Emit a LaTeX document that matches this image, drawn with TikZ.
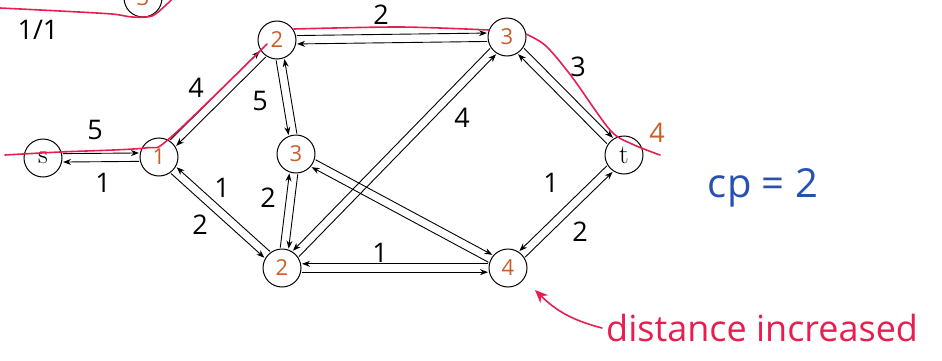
\documentclass[tikz,border=0pt]{standalone}
\usepackage{fontspec}
\setsansfont{Open Sans}
\usetikzlibrary{arrows.meta,calc}

\definecolor{distorange}{RGB}{200,95,40}
\definecolor{pathred}{RGB}{232,30,80}
\definecolor{capblue}{RGB}{40,80,175}

% one arc of a pair, drawn on the left / right of its own direction
\newcommand{\arcL}[2]{\draw[arr] ($(#1)!20pt!(#2)!4.2pt!90:(#2)$) -- ($(#2)!20pt!(#1)!4.2pt!-90:(#1)$);}
\newcommand{\arcR}[2]{\draw[arr] ($(#1)!20pt!(#2)!4.2pt!-90:(#2)$) -- ($(#2)!20pt!(#1)!4.2pt!90:(#1)$);}

\begin{document}
\begin{tikzpicture}[x=1pt, y=1pt,
  vert/.style={circle, draw, line width=1pt, minimum size=38pt, inner sep=0pt,
               text=distorange, font=\sffamily\fontsize{22}{22}\selectfont},
  term/.style={vert, text=black, font=\rmfamily\fontsize{27}{27}\selectfont},
  arr/.style={-{Stealth[length=8pt,width=6pt]}, line width=0.9pt},
  wt/.style={font=\sffamily\fontsize{27}{27}\selectfont, inner sep=0pt},
  red path/.style={pathred, line width=1.6pt, line cap=round}]
\useasboundingbox (0,0) rectangle (942,360);

% ---- vertices ----
\node[term] (s) at (43,202) {s};
\node[vert] (v1) at (159,203) {1};
\node[vert] (a2) at (277,320) {2};
\node[vert] (b3) at (507,323) {3};
\node[term] (t) at (624,205) {t};
\node[vert] (c3) at (296,206) {3};
\node[vert] (d2) at (282,92) {2};
\node[vert] (e4) at (508,92) {4};
\node[vert] (prev) at (143,362) {3};

% ---- residual arcs ----
\arcL{s}{v1} \arcL{v1}{s}
\arcL{v1}{a2} \arcL{a2}{v1}
\arcL{a2}{b3} \arcL{b3}{a2}
\arcL{b3}{t} \arcL{t}{b3}
\arcR{a2}{c3} \arcR{c3}{a2}
\arcR{d2}{v1} \arcR{v1}{d2}
\arcL{d2}{c3} \arcL{c3}{d2}
\arcR{d2}{b3} \arcR{b3}{d2}
\arcL{c3}{e4} \arcL{e4}{c3}
\arcR{e4}{d2} \arcR{d2}{e4}
\arcR{t}{e4} \arcR{e4}{t}

% ---- weights ----
\node[wt] (w-s1) at (95,230) {5};
\node[wt] (w-1s) at (103,177) {1};
\node[wt] (w-1a) at (196,272) {4};
\node[wt] (w-ac) at (260,259) {5};
\node[wt] (w-ab) at (381,345) {2};
\node[wt] (w-bt) at (578,293) {3};
\node[wt] (w-db) at (462,242) {4};
\node[wt] (w-d1) at (222,172) {1};
\node[wt] (w-1d) at (200,135) {2};
\node[wt] (w-cd) at (268,162) {2};
\node[wt] (w-de) at (380,107) {1};
\node[wt] (w-te) at (551,177) {1};
\node[wt] (w-et) at (580,128) {2};
\node[wt] (ratio) at (38,330) {1/1};

% ---- shortest path ----
\draw[red path] plot[smooth, tension=0.5] coordinates {(5,205) (60,208) (145,212) (170,222) (267,316)};
\draw[red path] plot[smooth, tension=0.5] coordinates {(294,331) (400,333) (489,330)};
\draw[red path] plot[smooth, tension=0.5] coordinates {(526,326) (546,314) (572,283) (610,230) (632,216) (660,205)};
\draw[red path] plot[smooth, tension=0.5] coordinates {(0,352) (60,349) (112,346) (132,343) (152,344) (166,355) (173,362)};

% ---- notes ----
\node[wt, text=distorange] (tdist) at (657,227) {4};
\node[text=capblue, font=\sffamily\fontsize{40}{40}\selectfont, inner sep=0pt] (cap) at (763,172) {cp = 2};
\node[text=pathred, font=\sffamily\fontsize{36}{36}\selectfont, inner sep=0pt, anchor=west] (incr) at (606,32) {distance increased};
\coordinate (inc-tip) at (535,70);
\draw[red path, -{Stealth[length=13pt,width=11pt]}] (incr.west) ++(-4,0) to[bend left=15] (inc-tip);
\end{tikzpicture}
\end{document}
